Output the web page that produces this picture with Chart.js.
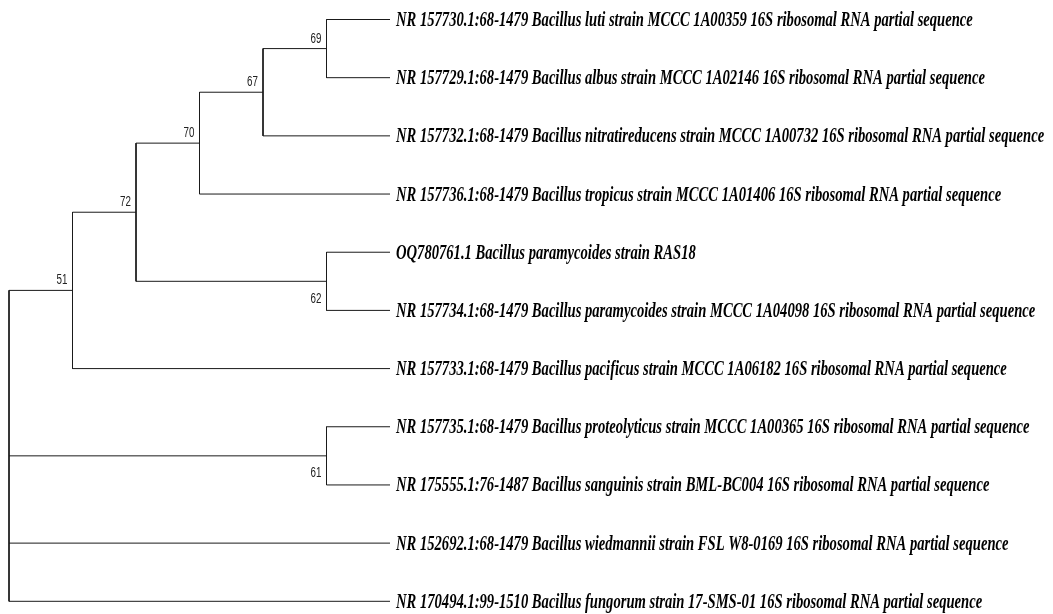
<!DOCTYPE html>
<html>
<head>
<meta charset="utf-8">
<title>Phylogenetic tree</title>
<script src="https://cdn.jsdelivr.net/npm/chart.js@4/dist/chart.umd.min.js"></script>
<style>
  html, body { margin: 0; padding: 0; background: #fff; }
  #wrap { width: 1053px; height: 614px; }
</style>
</head>
<body>
<div id="wrap"><canvas id="tree" width="1053" height="614"></canvas></div>
<script>
// Terminal taxa, top to bottom
const taxa = [
  "NR 157730.1:68-1479 Bacillus luti strain MCCC 1A00359 16S ribosomal RNA partial sequence",
  "NR 157729.1:68-1479 Bacillus albus strain MCCC 1A02146 16S ribosomal RNA partial sequence",
  "NR 157732.1:68-1479 Bacillus nitratireducens strain MCCC 1A00732 16S ribosomal RNA partial sequence",
  "NR 157736.1:68-1479 Bacillus tropicus strain MCCC 1A01406 16S ribosomal RNA partial sequence",
  "OQ780761.1 Bacillus paramycoides strain RAS18",
  "NR 157734.1:68-1479 Bacillus paramycoides strain MCCC 1A04098 16S ribosomal RNA partial sequence",
  "NR 157733.1:68-1479 Bacillus pacificus strain MCCC 1A06182 16S ribosomal RNA partial sequence",
  "NR 157735.1:68-1479 Bacillus proteolyticus strain MCCC 1A00365 16S ribosomal RNA partial sequence",
  "NR 175555.1:76-1487 Bacillus sanguinis strain BML-BC004 16S ribosomal RNA partial sequence",
  "NR 152692.1:68-1479 Bacillus wiedmannii strain FSL W8-0169 16S ribosomal RNA partial sequence",
  "NR 170494.1:99-1510 Bacillus fungorum strain 17-SMS-01 16S ribosomal RNA partial sequence"
];
// Parent node of each taxon
const taxonParent = ["n69", "n69", "n67", "n70", "n62", "n62", "n51", "n61", "n61", "root", "root"];

// Internal nodes (cladogram depth, parent, bootstrap support)
const nodes        = ["n69", "n67", "n70", "n62", "n72", "n51", "n61", "root"];
const nodeParent   = ["n67", "n70", "n72", "n72", "n51", "root", "root", null];
const nodeDepth    = [5, 4, 3, 5, 2, 1, 5, 0];
const nodeSupport  = [69, 67, 70, 62, 72, 51, 61, null];
const supportBelow = [false, false, false, true, false, false, true, false];
const leafDepth = 6;

// ---- derive tree geometry in data units ----
const children = {};
nodes.forEach(n => children[n] = []);
taxa.forEach((t, i) => children[taxonParent[i]].push({ kind: "leaf", idx: i }));
nodes.forEach((n, i) => { if (nodeParent[i]) children[nodeParent[i]].push({ kind: "node", idx: i }); });

const nodeY = {};
function yOf(c) { return c.kind === "leaf" ? c.idx : nodeYOf(nodes[c.idx]); }
function xOf(c) { return c.kind === "leaf" ? leafDepth : nodeDepth[c.idx]; }
function nodeYOf(n) {
  if (nodeY[n] !== undefined) return nodeY[n];
  const ys = children[n].map(yOf);
  nodeY[n] = (Math.min(...ys) + Math.max(...ys)) / 2;
  return nodeY[n];
}

// Branch segments: one vertical per node, one horizontal per child
const segments = [];
nodes.forEach((n, i) => {
  const ys = children[n].map(yOf);
  const d = nodeDepth[i];
  segments.push({ x: d, y: Math.min(...ys) }, { x: d, y: Math.max(...ys) }, { x: null, y: null });
  children[n].forEach(c => {
    const cy = yOf(c);
    segments.push({ x: d, y: cy }, { x: xOf(c), y: cy }, { x: null, y: null });
  });
});

const TAXON_CONDENSE = 0.73;
const SUPPORT_CONDENSE = 0.7;

const treeLabels = {
  id: "treeLabels",
  afterDatasetsDraw(chart) {
    const { ctx, scales: { x, y } } = chart;
    ctx.save();
    ctx.fillStyle = "#000";
    ctx.textAlign = "left";
    ctx.textBaseline = "alphabetic";
    ctx.font = 'italic bold 20px "Liberation Serif"';
    taxa.forEach((t, i) => {
      ctx.save();
      ctx.translate(x.getPixelForValue(leafDepth) + 6, y.getPixelForValue(i) + 6.5);
      ctx.scale(TAXON_CONDENSE, 1);
      ctx.fillText(t, 0, 0);
      ctx.restore();
    });

    ctx.font = '14px "Liberation Sans"';
    ctx.fillStyle = "#222";
    ctx.textAlign = "right";
    nodes.forEach((n, i) => {
      if (nodeSupport[i] == null) return;
      const px = x.getPixelForValue(nodeDepth[i]) - 5;
      const py = y.getPixelForValue(nodeYOf(n)) + (supportBelow[i] ? 21.5 : -6);
      ctx.save();
      ctx.translate(px, py);
      ctx.scale(SUPPORT_CONDENSE, 1);
      ctx.fillText(String(nodeSupport[i]), 0, 0);
      ctx.restore();
    });
    ctx.restore();
  }
};

new Chart(document.getElementById("tree"), {
  type: "scatter",
  data: {
    datasets: [{
      data: segments,
      showLine: true,
      spanGaps: false,
      borderColor: "#1a1a1a",
      borderWidth: 1,
      pointRadius: 0,
      pointHoverRadius: 0,
      clip: false
    }]
  },
  options: {
    responsive: false,
    animation: false,
    layout: { padding: { left: 9, right: 663, top: 19.5, bottom: 12.7 } },
    scales: {
      x: { type: "linear", min: 0, max: leafDepth, display: false },
      y: { type: "linear", min: 0, max: taxa.length - 1, reverse: true, display: false }
    },
    plugins: { legend: { display: false }, tooltip: { enabled: false } },
    events: []
  },
  plugins: [treeLabels]
});
</script>
</body>
</html>
